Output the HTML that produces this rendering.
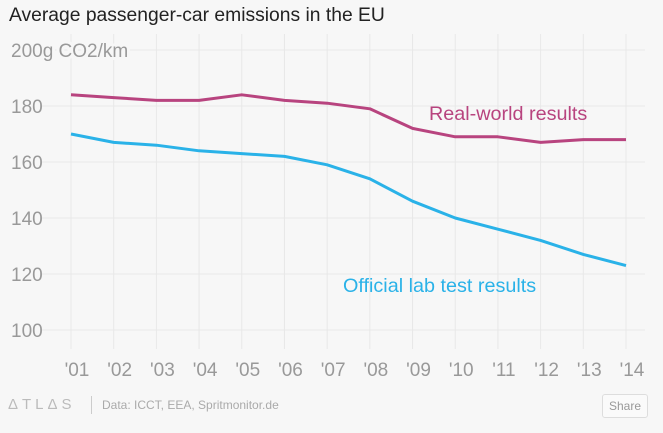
<!DOCTYPE html>
<html><head><meta charset="utf-8"><style>
body{margin:0;background:#f7f7f7;font-family:"Liberation Sans",sans-serif;}
#wrap{position:relative;width:663px;height:433px;overflow:hidden;}
.t{position:absolute;white-space:nowrap;}
</style></head><body>
<div id="wrap">
<div class="t" style="left:9px;top:5px;font-size:19.3px;color:#222;">Average passenger-car emissions in the EU</div>
<svg id="chart" width="663" height="433" style="position:absolute;left:0;top:0"></svg>
<div class="t" style="left:8px;top:396px;font-size:15px;color:#bbb;letter-spacing:4px;">ΔTLΔS</div>
<div class="t" style="left:91px;top:396px;width:1px;height:18px;background:#ccc;"></div>
<div class="t" style="left:102px;top:398px;font-size:12px;color:#aaa;">Data: ICCT, EEA, Spritmonitor.de</div>
<div class="t" style="left:602px;top:394px;width:44px;height:22px;border:1px solid #ddd;border-radius:3px;font-size:12px;color:#999;text-align:center;line-height:22px;background:#fafafa;">Share</div>
</div>
<script>
const years=["'01","'02","'03","'04","'05","'06","'07","'08","'09","'10","'11","'12","'13","'14"];
const realWorld=[184,183,182,182,184,182,181,179,172,169,169,167,168,168];
const official=[170,167,166,164,163,162,159,154,146,140,136,132,127,123];
const yTicks=[100,120,140,160,180,200];
const NS="http://www.w3.org/2000/svg";
const svg=document.getElementById('chart');
const x=i=>71+i*(626-71)/(years.length-1);
const y=v=>330-(v-100)*2.8;
function mk(t,a){const e=document.createElementNS(NS,t);for(const k in a)e.setAttribute(k,a[k]);svg.appendChild(e);return e;}
years.forEach((yr,i)=>{
 const g=mk('line',{x1:x(i),x2:x(i),y1:34,y2:349,stroke:'#e8e8e8','stroke-width':1});
 
 
 const t=mk('text',{x:x(i)+6,y:376,'text-anchor':'middle','font-size':19,fill:'#999','font-family':'Liberation Sans, sans-serif'});
 t.textContent=yr;
 
 
});
yTicks.forEach(v=>{
 const g=mk('line',{x1:42,x2:645,y1:y(v),y2:y(v),stroke:'#e8e8e8','stroke-width':1});
 
 
 const t=mk('text',{x:11,y:y(v)+7,'font-size':19,fill:'#999','font-family':'Liberation Sans, sans-serif'});
 t.textContent=v===200?'200g CO2/km':String(v);
 if(v===200){t.setAttribute('stroke','#f7f7f7');t.setAttribute('stroke-width','6');t.setAttribute('paint-order','stroke');}
 
 
});
function line(data,color,name){
 const p=mk('polyline',{points:data.map((v,i)=>x(i)+','+y(v)).join(' '),fill:'none',stroke:color,'stroke-width':3,'stroke-linejoin':'round'});
 
 
}
line(realWorld,'#b8447f','real-world-line');
line(official,'#2ab2e8','official-line');
const l1=mk('text',{x:429,y:120,'font-size':19.8,fill:'#b8447f','font-family':'Liberation Sans, sans-serif'});
l1.textContent='Real-world results';


const l2=mk('text',{x:343,y:292,'font-size':19.8,fill:'#2ab2e8','font-family':'Liberation Sans, sans-serif'});
l2.textContent='Official lab test results';


</script>
</body></html>
